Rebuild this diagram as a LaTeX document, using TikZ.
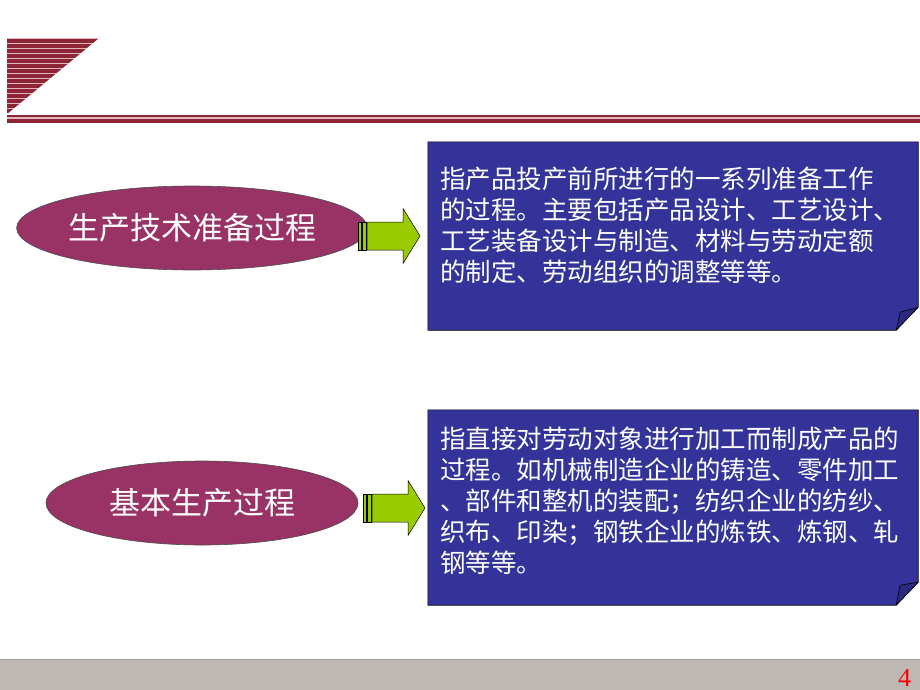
\documentclass[tikz,border=0pt]{standalone}
\usepackage{fontspec}
\setmainfont{Liberation Serif}
\newfontfamily\cjk{Noto Sans CJK SC}
\usepackage{tikz}
\usetikzlibrary{shapes.geometric,positioning}

\definecolor{stripered}{HTML}{8E2535}
\definecolor{stripepink}{HTML}{E2B6BE}
\definecolor{ovalred}{HTML}{993366}
\definecolor{boxblue}{HTML}{333399}
\definecolor{flapblue}{HTML}{2A2A80}
\definecolor{arrowgreen}{HTML}{99CC00}
\definecolor{footgray}{HTML}{BDB8B1}

\tikzset{
  stage/.style={ellipse,draw=black!70,line width=0.6pt,fill=ovalred,text=white,
    inner sep=0pt,font=\cjk\fontsize{31}{36}\selectfont},
  descbox/.style={rectangle,inner sep=0pt},
  desctext/.style={align=left,inner sep=0pt,text=white,
    font=\cjk\fontsize{25.5}{31}\selectfont},
  paper/.style={fill=boxblue,draw=black,line width=0.6pt},
  flap/.style={fill=flapblue,draw=black,line width=0.6pt,line join=round},
  fatarrow/.pic={
    \filldraw[fill=arrowgreen,draw=black,line width=0.5pt] (0,-14) rectangle (3,14);
    \filldraw[fill=arrowgreen,draw=black,line width=0.5pt] (4,-14) rectangle (8.5,14);
    \filldraw[fill=arrowgreen,draw=black,line width=0.5pt,line join=miter]
      (9,-14) -- (45,-14) -- (45,-27.5) -- (62,0) -- (45,27.5) -- (45,14) -- (9,14) -- cycle;
  }
}

\begin{document}
\begin{tikzpicture}[x=1pt,y=-1pt]
  \useasboundingbox (0,0) rectangle (920,690);
  \fill[white] (0,0) rectangle (920,690);

  % title mark
  \begin{scope}
    \clip (7,38) -- (99,38) -- (7,114) -- cycle;
    \fill[stripepink] (7,38) rectangle (100,114);
    \foreach \i in {0,...,15}
      \fill[stripered] (7,{39.3+\i*5}) rectangle (100,{42.6+\i*5});
  \end{scope}
  \fill[stripered] (7,115) rectangle (920,122.7);
  \fill[stripepink] (7,117.3) rectangle (920,118.7);

  % footer
  \fill[footgray] (0,659) rectangle (920,690);
  \draw[footgray!85!black,line width=0.6pt] (0,659.3) -- (920,659.3);
  \node[text=red,inner sep=1pt,font=\fontsize{26}{30}\selectfont] (pagenum) at (904.5,677.5) {4};

  % stages
  \node[stage,minimum width=322pt,minimum height=84pt] (prep)  at (192,228) {生产技术准备过程};
  \node[stage,minimum width=312pt,minimum height=84pt] (basic) at (202,503) {基本生产过程};

  \pic at (358,236) {fatarrow};
  \pic at (363,508) {fatarrow};

  % descriptions
  \node[descbox,minimum width=490pt,minimum height=188pt] (prepbox)  at (673,236) {};
  \node[descbox,minimum width=490pt,minimum height=195pt] (basicbox) at (673,507.5) {};

  \draw[paper] (prepbox.north west) -- (prepbox.north east)
    -- ([yshift=23pt]prepbox.south east) -- ([xshift=-22pt]prepbox.south east)
    -- (prepbox.south west) -- cycle;
  \draw[flap] ([xshift=-22pt]prepbox.south east) -- ([xshift=-18pt,yshift=18pt]prepbox.south east)
    -- ([yshift=23pt]prepbox.south east) -- cycle;
  \draw[paper] (basicbox.north west) -- (basicbox.north east)
    -- ([yshift=23pt]basicbox.south east) -- ([xshift=-22pt]basicbox.south east)
    -- (basicbox.south west) -- cycle;
  \draw[flap] ([xshift=-22pt]basicbox.south east) -- ([xshift=-18pt,yshift=20pt]basicbox.south east)
    -- ([yshift=23pt]basicbox.south east) -- cycle;

  \node[desctext,below right=25pt and 12pt of prepbox.north west] (preptext)
    {指产品投产前所进行的一系列准备工作\\
     的过程。主要包括产品设计、工艺设计、\\
     工艺装备设计与制造、材料与劳动定额\\
     的制定、劳动组织的调整等等。};
  \node[desctext,below right=17pt and 12pt of basicbox.north west] (basictext)
    {指直接对劳动对象进行加工而制成产品的\\
     过程。如机械制造企业的铸造、零件加工\\
     、部件和整机的装配；纺织企业的纺纱、\\
     织布、印染；钢铁企业的炼铁、炼钢、轧\\
     钢等等。};
\end{tikzpicture}
\end{document}
